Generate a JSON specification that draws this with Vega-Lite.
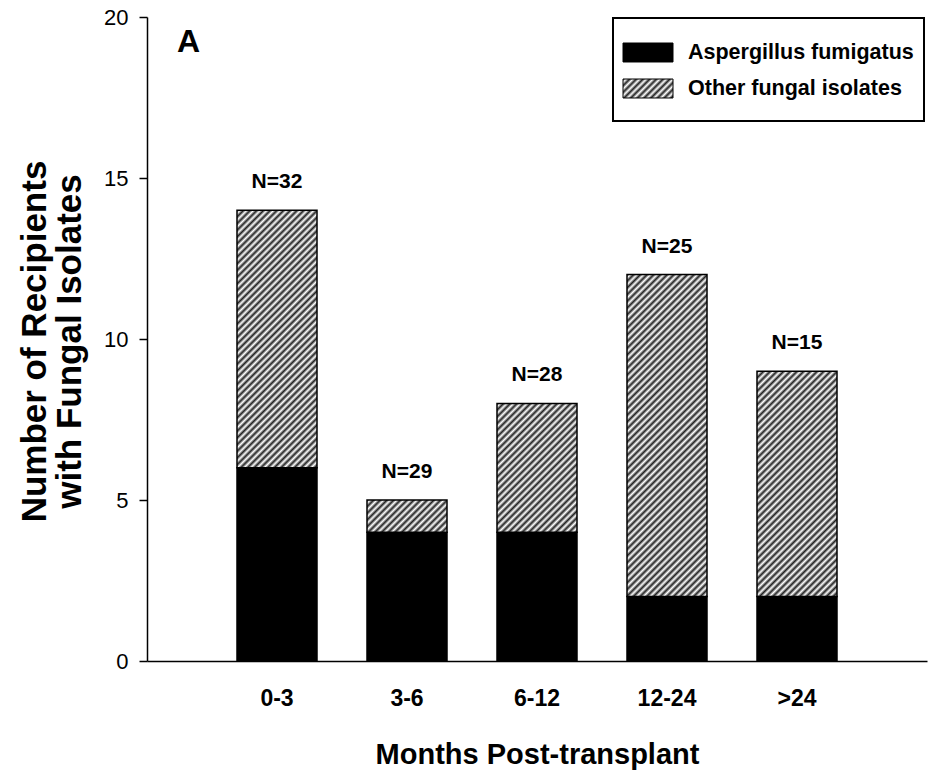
{
  "$schema": "https://vega.github.io/schema/vega-lite/v6.json",
  "width": 780,
  "height": 644,
  "autosize": "none",
  "padding": {"left": 147, "top": 17, "right": 3, "bottom": 113},
  "background": "white",
  "config": {"view": {"stroke": null}, "font": "Liberation Sans"},
  "title": {"text": "A", "anchor": "start", "frame": "group", "offset": -44, "dx": 30, "dy": 34, "baseline": "alphabetic", "fontSize": 32, "fontWeight": "bold", "color": "#000", "font": "Liberation Sans"},
  "datasets": {
    "bars": [
      {"period": "0-3", "type": "Aspergillus fumigatus", "count": 6},
      {"period": "0-3", "type": "Other fungal isolates", "count": 8},
      {"period": "3-6", "type": "Aspergillus fumigatus", "count": 4},
      {"period": "3-6", "type": "Other fungal isolates", "count": 1},
      {"period": "6-12", "type": "Aspergillus fumigatus", "count": 4},
      {"period": "6-12", "type": "Other fungal isolates", "count": 4},
      {"period": "12-24", "type": "Aspergillus fumigatus", "count": 2},
      {"period": "12-24", "type": "Other fungal isolates", "count": 10},
      {"period": ">24", "type": "Aspergillus fumigatus", "count": 2},
      {"period": ">24", "type": "Other fungal isolates", "count": 7}
    ],
    "labels": [
      {"period": "0-3", "total": 14, "label": "N=32"},
      {"period": "3-6", "total": 5, "label": "N=29"},
      {"period": "6-12", "total": 8, "label": "N=28"},
      {"period": "12-24", "total": 12, "label": "N=25"},
      {"period": ">24", "total": 9, "label": "N=15"}
    ]
  },
  "layer": [
    {
      "data": {"name": "bars"},
      "mark": {"type": "bar", "stroke": "#000", "strokeWidth": 1.5},
      "encoding": {
        "x": {
          "field": "period", "type": "nominal",
          "sort": ["0-3", "3-6", "6-12", "12-24", ">24"],
          "scale": {"paddingInner": 0.3846, "paddingOuter": 0.6923},
          "axis": {
            "title": "Months Post-transplant", "titleFont": "Liberation Sans", "titleFontSize": 29, "titleFontWeight": "bold", "titleColor": "#000",
            "titleBaseline": "alphabetic", "titleY": 102, "titleX": 390, "titleAlign": "center",
            "labelAngle": 0, "labelFont": "Liberation Sans", "labelFontSize": 23, "labelFontWeight": "bold", "labelColor": "#000",
            "labelBaseline": "alphabetic", "labelPadding": 44,
            "ticks": false, "tickSize": 0, "domainColor": "#000", "domainWidth": 1.5
          }
        },
        "y": {
          "field": "count", "type": "quantitative", "stack": "zero",
          "scale": {"domain": [0, 20], "nice": false},
          "axis": {
            "title": ["Number of Recipients", "with Fungal Isolates"], "titleFont": "Liberation Sans", "titleFontSize": 35, "titleFontWeight": "bold", "titleColor": "#000",
            "titleBaseline": "alphabetic", "titleLineHeight": 35, "titleX": -102, "titleY": 324, "titleAngle": 270, "titleAlign": "center",
            "values": [0, 5, 10, 15, 20], "labelFont": "Liberation Sans", "labelFontSize": 22, "labelColor": "#000", "labelPadding": 11,
            "tickSize": 8, "tickColor": "#000", "tickWidth": 1.5, "domainColor": "#000", "domainWidth": 1.5, "grid": false
          }
        },
        "order": {"field": "type"},
        "fill": {
          "field": "type", "type": "nominal",
          "scale": {"domain": ["Aspergillus fumigatus", "Other fungal isolates"], "range": ["#000000", {"expr": "{gradient:'linear',x1:0,y1:0,x2:7.3183,y2:2.7809,stops:[{offset:0,color:'#222'},{offset:0.008,color:'#fff'},{offset:0.016,color:'#222'},{offset:0.024,color:'#fff'},{offset:0.032,color:'#222'},{offset:0.04,color:'#fff'},{offset:0.048,color:'#222'},{offset:0.056,color:'#fff'},{offset:0.064,color:'#222'},{offset:0.072,color:'#fff'},{offset:0.08,color:'#222'},{offset:0.088,color:'#fff'},{offset:0.096,color:'#222'},{offset:0.104,color:'#fff'},{offset:0.112,color:'#222'},{offset:0.12,color:'#fff'},{offset:0.128,color:'#222'},{offset:0.136,color:'#fff'},{offset:0.144,color:'#222'},{offset:0.152,color:'#fff'},{offset:0.16,color:'#222'},{offset:0.168,color:'#fff'}]}"}]},
          "legend": {
            "title": " ", "titleOrient": "bottom", "titleFontSize": 10, "titlePadding": 1,
            "orient": "none", "legendX": 466, "legendY": 1, "padding": 10,
            "strokeColor": "#000", "fillColor": "#fff",
            "labelFont": "Liberation Sans", "labelFontSize": 21.5, "labelFontWeight": "bold", "labelColor": "#000", "labelLimit": 400,
            "symbolSize": 2304, "symbolType": "M-1.0208,-0.3958L1.0625,-0.3958L1.0625,0.3958L-1.0208,0.3958Z",
            "symbolStrokeWidth": 1, "symbolStrokeColor": "#000", "labelOffset": 16, "rowPadding": -18,
            "encode": {"legend": {"update": {"strokeWidth": {"value": 2}}}}
          },
          "condition": [
            {"test": "datum.type === 'Other fungal isolates' && datum.period === '0-3'", "value": {"gradient": "linear", "x1": 0, "y1": 0, "x2": 0.46043, "y2": 1.48259, "stops": [
              {"offset":0,"color":"#222"},{"offset":0.008,"color":"#fff"},{"offset":0.016,"color":"#222"},{"offset":0.024,"color":"#fff"},{"offset":0.032,"color":"#222"},{"offset":0.04,"color":"#fff"},{"offset":0.048,"color":"#222"},{"offset":0.056,"color":"#fff"},{"offset":0.064,"color":"#222"},{"offset":0.072,"color":"#fff"},
              {"offset":0.08,"color":"#222"},{"offset":0.088,"color":"#fff"},{"offset":0.096,"color":"#222"},{"offset":0.104,"color":"#fff"},{"offset":0.112,"color":"#222"},{"offset":0.12,"color":"#fff"},{"offset":0.128,"color":"#222"},{"offset":0.136,"color":"#fff"},{"offset":0.144,"color":"#222"},{"offset":0.152,"color":"#fff"},
              {"offset":0.16,"color":"#222"},{"offset":0.168,"color":"#fff"},{"offset":0.176,"color":"#222"},{"offset":0.184,"color":"#fff"},{"offset":0.192,"color":"#222"},{"offset":0.2,"color":"#fff"},{"offset":0.208,"color":"#222"},{"offset":0.216,"color":"#fff"},{"offset":0.224,"color":"#222"},{"offset":0.232,"color":"#fff"},
              {"offset":0.24,"color":"#222"},{"offset":0.248,"color":"#fff"},{"offset":0.256,"color":"#222"},{"offset":0.264,"color":"#fff"},{"offset":0.272,"color":"#222"},{"offset":0.28,"color":"#fff"},{"offset":0.288,"color":"#222"},{"offset":0.296,"color":"#fff"},{"offset":0.304,"color":"#222"},{"offset":0.312,"color":"#fff"},
              {"offset":0.32,"color":"#222"},{"offset":0.328,"color":"#fff"},{"offset":0.336,"color":"#222"},{"offset":0.344,"color":"#fff"},{"offset":0.352,"color":"#222"},{"offset":0.36,"color":"#fff"},{"offset":0.368,"color":"#222"},{"offset":0.376,"color":"#fff"},{"offset":0.384,"color":"#222"},{"offset":0.392,"color":"#fff"},
              {"offset":0.4,"color":"#222"},{"offset":0.408,"color":"#fff"},{"offset":0.416,"color":"#222"},{"offset":0.424,"color":"#fff"},{"offset":0.432,"color":"#222"},{"offset":0.44,"color":"#fff"},{"offset":0.448,"color":"#222"},{"offset":0.456,"color":"#fff"},{"offset":0.464,"color":"#222"},{"offset":0.472,"color":"#fff"},
              {"offset":0.48,"color":"#222"},{"offset":0.488,"color":"#fff"},{"offset":0.496,"color":"#222"},{"offset":0.504,"color":"#fff"},{"offset":0.512,"color":"#222"},{"offset":0.52,"color":"#fff"},{"offset":0.528,"color":"#222"},{"offset":0.536,"color":"#fff"},{"offset":0.544,"color":"#222"},{"offset":0.552,"color":"#fff"},
              {"offset":0.56,"color":"#222"},{"offset":0.568,"color":"#fff"},{"offset":0.576,"color":"#222"},{"offset":0.584,"color":"#fff"},{"offset":0.592,"color":"#222"},{"offset":0.6,"color":"#fff"},{"offset":0.608,"color":"#222"},{"offset":0.616,"color":"#fff"},{"offset":0.624,"color":"#222"},{"offset":0.632,"color":"#fff"},
              {"offset":0.64,"color":"#222"},{"offset":0.648,"color":"#fff"},{"offset":0.656,"color":"#222"},{"offset":0.664,"color":"#fff"},{"offset":0.672,"color":"#222"},{"offset":0.68,"color":"#fff"},{"offset":0.688,"color":"#222"},{"offset":0.696,"color":"#fff"},{"offset":0.704,"color":"#222"},{"offset":0.712,"color":"#fff"},
              {"offset":0.72,"color":"#222"},{"offset":0.728,"color":"#fff"},{"offset":0.736,"color":"#222"},{"offset":0.744,"color":"#fff"},{"offset":0.752,"color":"#222"},{"offset":0.76,"color":"#fff"},{"offset":0.768,"color":"#222"},{"offset":0.776,"color":"#fff"},{"offset":0.784,"color":"#222"},{"offset":0.792,"color":"#fff"},
              {"offset":0.8,"color":"#222"},{"offset":0.808,"color":"#fff"}
            ]}},
            {"test": "datum.type === 'Other fungal isolates' && datum.period === '3-6'", "value": {"gradient": "linear", "x1": 0, "y1": 0, "x2": 4.5046, "y2": 1.8131, "stops": [
              {"offset":0,"color":"#222"},{"offset":0.008,"color":"#fff"},{"offset":0.016,"color":"#222"},{"offset":0.024,"color":"#fff"},{"offset":0.032,"color":"#222"},{"offset":0.04,"color":"#fff"},{"offset":0.048,"color":"#222"},{"offset":0.056,"color":"#fff"},{"offset":0.064,"color":"#222"},{"offset":0.072,"color":"#fff"},
              {"offset":0.08,"color":"#222"},{"offset":0.088,"color":"#fff"},{"offset":0.096,"color":"#222"},{"offset":0.104,"color":"#fff"},{"offset":0.112,"color":"#222"},{"offset":0.12,"color":"#fff"},{"offset":0.128,"color":"#222"},{"offset":0.136,"color":"#fff"},{"offset":0.144,"color":"#222"},{"offset":0.152,"color":"#fff"},
              {"offset":0.16,"color":"#222"},{"offset":0.168,"color":"#fff"},{"offset":0.176,"color":"#222"},{"offset":0.184,"color":"#fff"},{"offset":0.192,"color":"#222"},{"offset":0.2,"color":"#fff"},{"offset":0.208,"color":"#222"},{"offset":0.216,"color":"#fff"},{"offset":0.224,"color":"#222"},{"offset":0.232,"color":"#fff"},
              {"offset":0.24,"color":"#222"},{"offset":0.248,"color":"#fff"},{"offset":0.256,"color":"#222"},{"offset":0.264,"color":"#fff"},{"offset":0.272,"color":"#222"}
            ]}},
            {"test": "datum.type === 'Other fungal isolates' && datum.period === '6-12'", "value": {"gradient": "linear", "x1": 0, "y1": 0, "x2": 1.4572, "y2": 2.3461, "stops": [
              {"offset":0,"color":"#222"},{"offset":0.008,"color":"#fff"},{"offset":0.016,"color":"#222"},{"offset":0.024,"color":"#fff"},{"offset":0.032,"color":"#222"},{"offset":0.04,"color":"#fff"},{"offset":0.048,"color":"#222"},{"offset":0.056,"color":"#fff"},{"offset":0.064,"color":"#222"},{"offset":0.072,"color":"#fff"},
              {"offset":0.08,"color":"#222"},{"offset":0.088,"color":"#fff"},{"offset":0.096,"color":"#222"},{"offset":0.104,"color":"#fff"},{"offset":0.112,"color":"#222"},{"offset":0.12,"color":"#fff"},{"offset":0.128,"color":"#222"},{"offset":0.136,"color":"#fff"},{"offset":0.144,"color":"#222"},{"offset":0.152,"color":"#fff"},
              {"offset":0.16,"color":"#222"},{"offset":0.168,"color":"#fff"},{"offset":0.176,"color":"#222"},{"offset":0.184,"color":"#fff"},{"offset":0.192,"color":"#222"},{"offset":0.2,"color":"#fff"},{"offset":0.208,"color":"#222"},{"offset":0.216,"color":"#fff"},{"offset":0.224,"color":"#222"},{"offset":0.232,"color":"#fff"},
              {"offset":0.24,"color":"#222"},{"offset":0.248,"color":"#fff"},{"offset":0.256,"color":"#222"},{"offset":0.264,"color":"#fff"},{"offset":0.272,"color":"#222"},{"offset":0.28,"color":"#fff"},{"offset":0.288,"color":"#222"},{"offset":0.296,"color":"#fff"},{"offset":0.304,"color":"#222"},{"offset":0.312,"color":"#fff"},
              {"offset":0.32,"color":"#222"},{"offset":0.328,"color":"#fff"},{"offset":0.336,"color":"#222"},{"offset":0.344,"color":"#fff"},{"offset":0.352,"color":"#222"},{"offset":0.36,"color":"#fff"},{"offset":0.368,"color":"#222"},{"offset":0.376,"color":"#fff"},{"offset":0.384,"color":"#222"},{"offset":0.392,"color":"#fff"},
              {"offset":0.4,"color":"#222"},{"offset":0.408,"color":"#fff"},{"offset":0.416,"color":"#222"},{"offset":0.424,"color":"#fff"},{"offset":0.432,"color":"#222"},{"offset":0.44,"color":"#fff"},{"offset":0.448,"color":"#222"},{"offset":0.456,"color":"#fff"},{"offset":0.464,"color":"#222"},{"offset":0.472,"color":"#fff"},
              {"offset":0.48,"color":"#222"},{"offset":0.488,"color":"#fff"},{"offset":0.496,"color":"#222"},{"offset":0.504,"color":"#fff"}
            ]}},
            {"test": "datum.type === 'Other fungal isolates' && datum.period === '12-24'", "value": {"gradient": "linear", "x1": 0, "y1": 0, "x2": 0.30431, "y2": 1.22486, "stops": [
              {"offset":0,"color":"#222"},{"offset":0.008,"color":"#fff"},{"offset":0.016,"color":"#222"},{"offset":0.024,"color":"#fff"},{"offset":0.032,"color":"#222"},{"offset":0.04,"color":"#fff"},{"offset":0.048,"color":"#222"},{"offset":0.056,"color":"#fff"},{"offset":0.064,"color":"#222"},{"offset":0.072,"color":"#fff"},
              {"offset":0.08,"color":"#222"},{"offset":0.088,"color":"#fff"},{"offset":0.096,"color":"#222"},{"offset":0.104,"color":"#fff"},{"offset":0.112,"color":"#222"},{"offset":0.12,"color":"#fff"},{"offset":0.128,"color":"#222"},{"offset":0.136,"color":"#fff"},{"offset":0.144,"color":"#222"},{"offset":0.152,"color":"#fff"},
              {"offset":0.16,"color":"#222"},{"offset":0.168,"color":"#fff"},{"offset":0.176,"color":"#222"},{"offset":0.184,"color":"#fff"},{"offset":0.192,"color":"#222"},{"offset":0.2,"color":"#fff"},{"offset":0.208,"color":"#222"},{"offset":0.216,"color":"#fff"},{"offset":0.224,"color":"#222"},{"offset":0.232,"color":"#fff"},
              {"offset":0.24,"color":"#222"},{"offset":0.248,"color":"#fff"},{"offset":0.256,"color":"#222"},{"offset":0.264,"color":"#fff"},{"offset":0.272,"color":"#222"},{"offset":0.28,"color":"#fff"},{"offset":0.288,"color":"#222"},{"offset":0.296,"color":"#fff"},{"offset":0.304,"color":"#222"},{"offset":0.312,"color":"#fff"},
              {"offset":0.32,"color":"#222"},{"offset":0.328,"color":"#fff"},{"offset":0.336,"color":"#222"},{"offset":0.344,"color":"#fff"},{"offset":0.352,"color":"#222"},{"offset":0.36,"color":"#fff"},{"offset":0.368,"color":"#222"},{"offset":0.376,"color":"#fff"},{"offset":0.384,"color":"#222"},{"offset":0.392,"color":"#fff"},
              {"offset":0.4,"color":"#222"},{"offset":0.408,"color":"#fff"},{"offset":0.416,"color":"#222"},{"offset":0.424,"color":"#fff"},{"offset":0.432,"color":"#222"},{"offset":0.44,"color":"#fff"},{"offset":0.448,"color":"#222"},{"offset":0.456,"color":"#fff"},{"offset":0.464,"color":"#222"},{"offset":0.472,"color":"#fff"},
              {"offset":0.48,"color":"#222"},{"offset":0.488,"color":"#fff"},{"offset":0.496,"color":"#222"},{"offset":0.504,"color":"#fff"},{"offset":0.512,"color":"#222"},{"offset":0.52,"color":"#fff"},{"offset":0.528,"color":"#222"},{"offset":0.536,"color":"#fff"},{"offset":0.544,"color":"#222"},{"offset":0.552,"color":"#fff"},
              {"offset":0.56,"color":"#222"},{"offset":0.568,"color":"#fff"},{"offset":0.576,"color":"#222"},{"offset":0.584,"color":"#fff"},{"offset":0.592,"color":"#222"},{"offset":0.6,"color":"#fff"},{"offset":0.608,"color":"#222"},{"offset":0.616,"color":"#fff"},{"offset":0.624,"color":"#222"},{"offset":0.632,"color":"#fff"},
              {"offset":0.64,"color":"#222"},{"offset":0.648,"color":"#fff"},{"offset":0.656,"color":"#222"},{"offset":0.664,"color":"#fff"},{"offset":0.672,"color":"#222"},{"offset":0.68,"color":"#fff"},{"offset":0.688,"color":"#222"},{"offset":0.696,"color":"#fff"},{"offset":0.704,"color":"#222"},{"offset":0.712,"color":"#fff"},
              {"offset":0.72,"color":"#222"},{"offset":0.728,"color":"#fff"},{"offset":0.736,"color":"#222"},{"offset":0.744,"color":"#fff"},{"offset":0.752,"color":"#222"},{"offset":0.76,"color":"#fff"},{"offset":0.768,"color":"#222"},{"offset":0.776,"color":"#fff"},{"offset":0.784,"color":"#222"},{"offset":0.792,"color":"#fff"},
              {"offset":0.8,"color":"#222"},{"offset":0.808,"color":"#fff"},{"offset":0.816,"color":"#222"},{"offset":0.824,"color":"#fff"},{"offset":0.832,"color":"#222"},{"offset":0.84,"color":"#fff"},{"offset":0.848,"color":"#222"},{"offset":0.856,"color":"#fff"},{"offset":0.864,"color":"#222"},{"offset":0.872,"color":"#fff"},
              {"offset":0.88,"color":"#222"},{"offset":0.888,"color":"#fff"},{"offset":0.896,"color":"#222"},{"offset":0.904,"color":"#fff"},{"offset":0.912,"color":"#222"},{"offset":0.92,"color":"#fff"},{"offset":0.928,"color":"#222"},{"offset":0.936,"color":"#fff"},{"offset":0.944,"color":"#222"},{"offset":0.952,"color":"#fff"},
              {"offset":0.96,"color":"#222"},{"offset":0.968,"color":"#fff"}
            ]}},
            {"test": "datum.type === 'Other fungal isolates' && datum.period === '>24'", "value": {"gradient": "linear", "x1": 0, "y1": 0, "x2": 0.58561, "y2": 1.64997, "stops": [
              {"offset":0,"color":"#222"},{"offset":0.008,"color":"#fff"},{"offset":0.016,"color":"#222"},{"offset":0.024,"color":"#fff"},{"offset":0.032,"color":"#222"},{"offset":0.04,"color":"#fff"},{"offset":0.048,"color":"#222"},{"offset":0.056,"color":"#fff"},{"offset":0.064,"color":"#222"},{"offset":0.072,"color":"#fff"},
              {"offset":0.08,"color":"#222"},{"offset":0.088,"color":"#fff"},{"offset":0.096,"color":"#222"},{"offset":0.104,"color":"#fff"},{"offset":0.112,"color":"#222"},{"offset":0.12,"color":"#fff"},{"offset":0.128,"color":"#222"},{"offset":0.136,"color":"#fff"},{"offset":0.144,"color":"#222"},{"offset":0.152,"color":"#fff"},
              {"offset":0.16,"color":"#222"},{"offset":0.168,"color":"#fff"},{"offset":0.176,"color":"#222"},{"offset":0.184,"color":"#fff"},{"offset":0.192,"color":"#222"},{"offset":0.2,"color":"#fff"},{"offset":0.208,"color":"#222"},{"offset":0.216,"color":"#fff"},{"offset":0.224,"color":"#222"},{"offset":0.232,"color":"#fff"},
              {"offset":0.24,"color":"#222"},{"offset":0.248,"color":"#fff"},{"offset":0.256,"color":"#222"},{"offset":0.264,"color":"#fff"},{"offset":0.272,"color":"#222"},{"offset":0.28,"color":"#fff"},{"offset":0.288,"color":"#222"},{"offset":0.296,"color":"#fff"},{"offset":0.304,"color":"#222"},{"offset":0.312,"color":"#fff"},
              {"offset":0.32,"color":"#222"},{"offset":0.328,"color":"#fff"},{"offset":0.336,"color":"#222"},{"offset":0.344,"color":"#fff"},{"offset":0.352,"color":"#222"},{"offset":0.36,"color":"#fff"},{"offset":0.368,"color":"#222"},{"offset":0.376,"color":"#fff"},{"offset":0.384,"color":"#222"},{"offset":0.392,"color":"#fff"},
              {"offset":0.4,"color":"#222"},{"offset":0.408,"color":"#fff"},{"offset":0.416,"color":"#222"},{"offset":0.424,"color":"#fff"},{"offset":0.432,"color":"#222"},{"offset":0.44,"color":"#fff"},{"offset":0.448,"color":"#222"},{"offset":0.456,"color":"#fff"},{"offset":0.464,"color":"#222"},{"offset":0.472,"color":"#fff"},
              {"offset":0.48,"color":"#222"},{"offset":0.488,"color":"#fff"},{"offset":0.496,"color":"#222"},{"offset":0.504,"color":"#fff"},{"offset":0.512,"color":"#222"},{"offset":0.52,"color":"#fff"},{"offset":0.528,"color":"#222"},{"offset":0.536,"color":"#fff"},{"offset":0.544,"color":"#222"},{"offset":0.552,"color":"#fff"},
              {"offset":0.56,"color":"#222"},{"offset":0.568,"color":"#fff"},{"offset":0.576,"color":"#222"},{"offset":0.584,"color":"#fff"},{"offset":0.592,"color":"#222"},{"offset":0.6,"color":"#fff"},{"offset":0.608,"color":"#222"},{"offset":0.616,"color":"#fff"},{"offset":0.624,"color":"#222"},{"offset":0.632,"color":"#fff"},
              {"offset":0.64,"color":"#222"},{"offset":0.648,"color":"#fff"},{"offset":0.656,"color":"#222"},{"offset":0.664,"color":"#fff"},{"offset":0.672,"color":"#222"},{"offset":0.68,"color":"#fff"},{"offset":0.688,"color":"#222"},{"offset":0.696,"color":"#fff"},{"offset":0.704,"color":"#222"},{"offset":0.712,"color":"#fff"},
              {"offset":0.72,"color":"#222"},{"offset":0.728,"color":"#fff"},{"offset":0.736,"color":"#222"}
            ]}}
          ]
        }
      }
    },
    {
      "data": {"name": "labels"},
      "mark": {"type": "text", "dy": -22, "baseline": "alphabetic", "align": "center", "font": "Liberation Sans", "fontSize": 21, "fontWeight": "bold", "color": "#000"},
      "encoding": {
        "x": {"field": "period", "type": "nominal", "sort": ["0-3", "3-6", "6-12", "12-24", ">24"]},
        "y": {"field": "total", "type": "quantitative"},
        "text": {"field": "label"}
      }
    }
  ]
}
